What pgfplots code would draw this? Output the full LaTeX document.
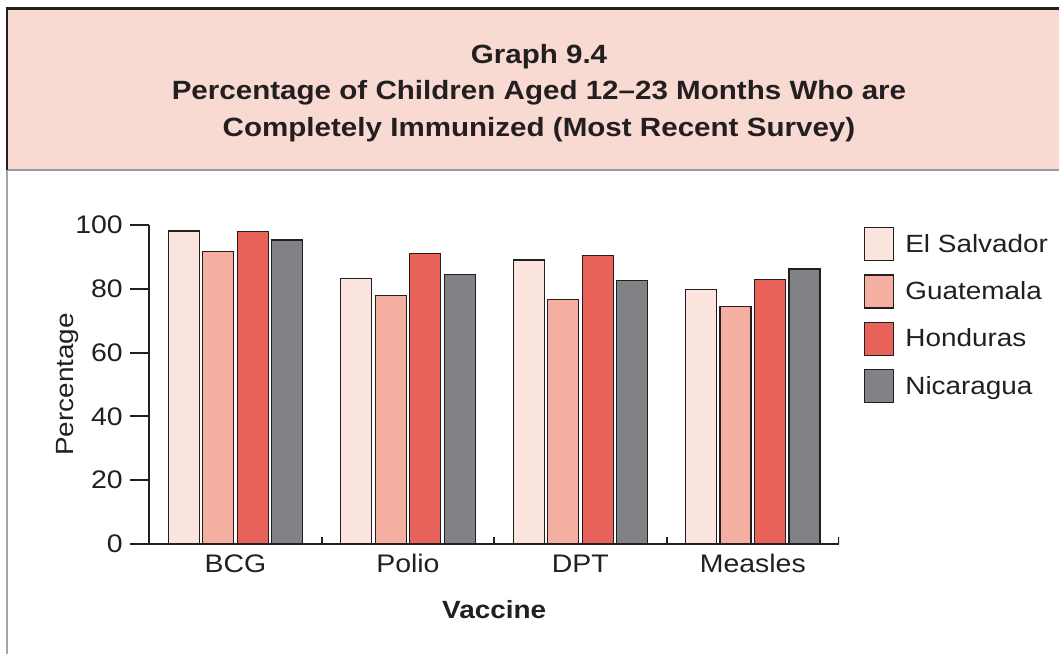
\documentclass[border=0pt]{standalone}
\usepackage{pgfplots}
\pgfplotsset{compat=1.18}
\usepackage{fontspec}
\setmainfont{Liberation Sans}[FakeStretch=1.12]

\definecolor{headbg}{HTML}{F8DAD2}
\definecolor{edge}{HTML}{231F20}
\definecolor{cES}{HTML}{FCE4DF}
\definecolor{cGT}{HTML}{F4AFA0}
\definecolor{cHN}{HTML}{E8625A}
\definecolor{cNI}{HTML}{808285}

\begin{document}
\begin{tikzpicture}[x=1bp,y=1bp]
\useasboundingbox (0,0) rectangle (1059,654);

% header band
\fill[headbg] (7,484) rectangle (1062,645);
\draw[black!40, line width=2.5bp] (6,484) -- (1062,484);
\draw[black!35, line width=2bp] (7,0) -- (7,484);
\draw[edge, line width=2.5bp] (7,484) -- (7,645.5) -- (1062,645.5);
\node[align=center, font=\bfseries\fontsize{26.5}{36.5}\selectfont, text=edge]
  at (539,561) {Graph 9.4\\Percentage of Children Aged 12--23 Months Who are\\Completely Immunized (Most Recent Survey)};

\begin{axis}[
  at={(149.3bp,110bp)}, anchor=south west,
  scale only axis, width=689.7bp, height=319bp,
  xmin=-0.5, xmax=3.5, ymin=0, ymax=100,
  axis x line*=bottom, axis y line*=left,
  axis line style={edge, line width=2bp, -},
  ybar=3.5bp, bar width=31bp,
  xtick={0,1,2,3}, xticklabels={BCG,Polio,DPT,Measles},
  xtick style={draw=none},
  ytick={0,20,40,60,80,100},
  ytick style={edge, line width=2bp},
  tick align=outside, major tick length=19bp,
  /pgf/number format/assume math mode=true,
  tick label style={font=\fontsize{25.5}{30}\selectfont, text=edge},
  yticklabel style={xshift=-4bp},
  xticklabel style={anchor=base, yshift=-10bp},
  xlabel={\bfseries Vaccine}, ylabel={Percentage},
  label style={font=\fontsize{25}{30}\selectfont, text=edge},
  x label style={at={(axis description cs:0.5,-0.207)}, anchor=center},
  y label style={at={(axis description cs:-0.118,0.5)}, anchor=center},
  every axis plot/.append style={draw=edge, line width=1.2bp},
  legend style={at={(axis description cs:1.0362,0.9937)}, anchor=north west,
    draw=none, fill=none, inner sep=0pt, row sep=13bp,
    nodes={inner sep=0pt},
    font=\fontsize{25}{30}\selectfont, text=edge,
    /tikz/every odd column/.append style={column sep=11bp}},
  legend cell align=left,
  legend image code/.code={\pgfsetbaseline{-9bp}\draw[#1,/tikz/.cd] (0bp,-16.5bp) rectangle (29bp,16.5bp);},
]
\addplot[fill=cES] coordinates {(0,98.1) (1,83.2) (2,89.0) (3,79.7)};
\addplot[fill=cGT] coordinates {(0,91.8) (1,78.0) (2,76.6) (3,74.5)};
\addplot[fill=cHN] coordinates {(0,98.0) (1,91.0) (2,90.5) (3,83.0)};
\addplot[fill=cNI] coordinates {(0,95.3) (1,84.5) (2,82.5) (3,86.2)};
\legend{El Salvador,Guatemala,Honduras,Nicaragua}

% group separators on the category axis
\draw[edge, line width=2bp] (axis cs:0.5,0) -- (axis cs:0.5,2.2);
\draw[edge, line width=2bp] (axis cs:1.5,0) -- (axis cs:1.5,2.2);
\draw[edge, line width=2bp] (axis cs:2.5,0) -- (axis cs:2.5,2.2);
\draw[edge, line width=2bp] (axis cs:3.5,0) -- (axis cs:3.5,2.2);
\end{axis}
\end{tikzpicture}
\end{document}
